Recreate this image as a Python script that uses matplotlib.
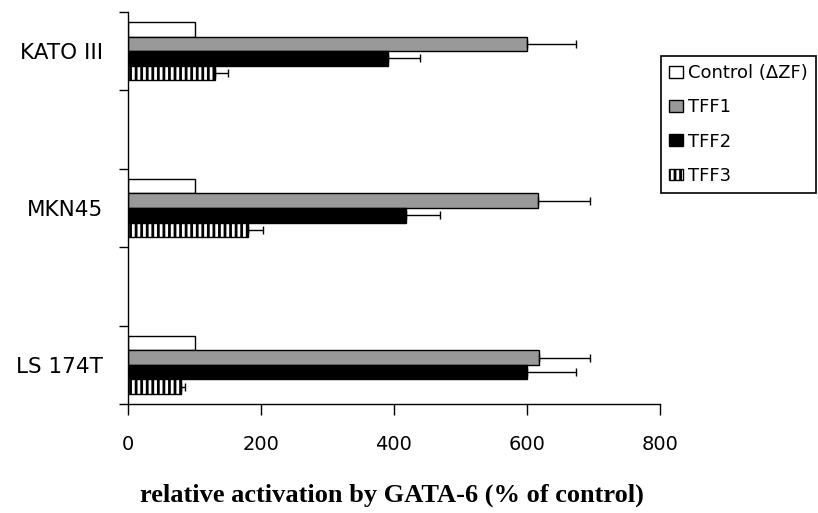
import numpy as np
import matplotlib
matplotlib.use("Agg")
import matplotlib.pyplot as plt

# ---- data ----
cell_lines = ["KATO III", "MKN45", "LS 174T"]
series = ["Control (\u0394ZF)", "TFF1", "TFF2", "TFF3"]
values = {
    "Control (\u0394ZF)": [100, 100, 100],
    "TFF1": [600, 617, 618],
    "TFF2": [391, 418, 600],
    "TFF3": [131, 180, 79],
}
errors = {
    "Control (\u0394ZF)": [0, 0, 0],
    "TFF1": [74, 78, 77],
    "TFF2": [48, 51, 74],
    "TFF3": [19, 23, 7],
}
x_ticks = [0, 200, 400, 600, 800]

# ---- styles ----
face = {"Control (\u0394ZF)": "white", "TFF1": "#999999", "TFF2": "black", "TFF3": "white"}
hatch = {"Control (\u0394ZF)": None, "TFF1": None, "TFF2": None, "TFF3": "|||"}

plt.rcParams["hatch.linewidth"] = 2.0
plt.rcParams["font.family"] = ["DejaVu Sans"]

fig = plt.figure(figsize=(8.18, 5.13), dpi=100)
ax = fig.add_axes([128 / 818, 1 - 404 / 513, 532 / 818, 392 / 513])

# category centres at 0.5, 2.5, 4.5 (blank slots between them)
centres = np.array([0.5, 2.5, 4.5])
h = 0.186
for i, name in enumerate(series):
    y = centres + (i - 1.5) * h
    ax.barh(y, values[name], height=h, color=face[name], edgecolor="black",
            linewidth=1.0, hatch=hatch[name], label=name, zorder=2)
    if any(errors[name]):
        err = np.array(errors[name])
        ax.errorbar(values[name], y, xerr=[np.zeros_like(err), err], fmt="none",
                    ecolor="black", elinewidth=1.0, capsize=3, capthick=1.0, zorder=3)

ax.set_xlim(0, 800)
ax.set_ylim(5, 0)
ax.set_xticks(x_ticks)
ax.set_xticklabels([str(t) for t in x_ticks])
ax.set_yticks(np.arange(0, 6))
ax.set_yticklabels([])
ax.set_yticks(centres, minor=True)
ax.set_yticklabels(cell_lines, minor=True)

ax.spines["top"].set_visible(False)
ax.spines["right"].set_visible(False)
for s in ("left", "bottom"):
    ax.spines[s].set_linewidth(1.0)

ax.tick_params(axis="x", direction="out", length=8, width=1.0, pad=14, labelsize=14)
ax.tick_params(axis="y", which="major", direction="out", length=6.5, width=1.0)
ax.tick_params(axis="y", which="minor", length=0, pad=18, labelsize=15.5)

fig.text(392 / 818, 1 - 495 / 513, "relative activation by GATA-6 (% of control)",
         family="Liberation Serif", weight="bold", fontsize=19,
         ha="center", va="center")

leg = fig.legend(loc="upper left", bbox_to_anchor=(661 / 818, 1 - 56 / 513),
                 fontsize=13, frameon=True, fancybox=False, framealpha=1,
                 handlelength=0.75, handleheight=0.62, handletextpad=0.3,
                 labelspacing=0.9, borderpad=0.45, borderaxespad=0)
leg.get_frame().set_edgecolor("black")
leg.get_frame().set_linewidth(1.2)

fig.savefig("out.png", dpi=100)
